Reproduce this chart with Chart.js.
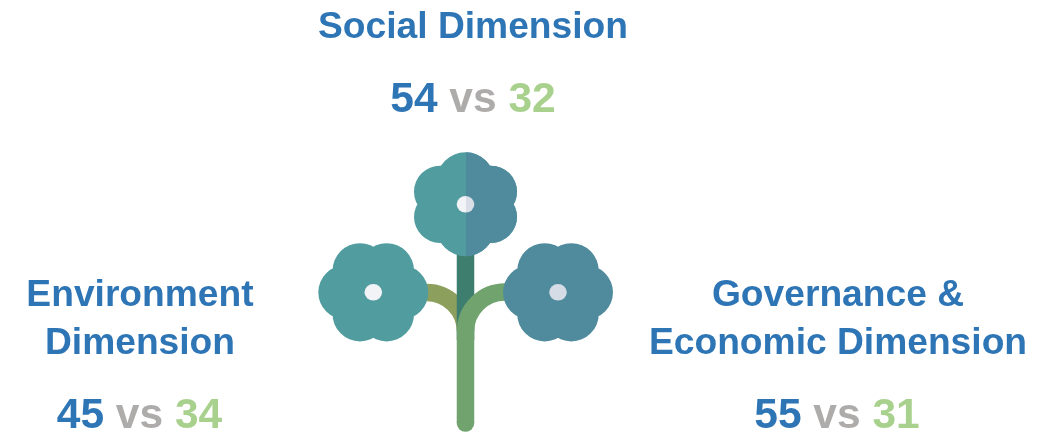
<!DOCTYPE html>
<html>
<head>
<meta charset="utf-8">
<title>Dimensions</title>
<script src="https://cdn.jsdelivr.net/npm/chart.js@4"></script>
<style>
  html, body { margin: 0; padding: 0; background: #ffffff; }
  canvas { display: block; }
</style>
</head>
<body>
<canvas id="myChart" width="1043" height="433"></canvas>
<script>
// Chart values
var categories = ["Environment Dimension", "Social Dimension", "Governance & Economic Dimension"];
var categoryLines = [["Environment", "Dimension"], ["Social Dimension"], ["Governance &", "Economic Dimension"]];
var blueValues = [45, 54, 55];
var greenValues = [34, 32, 31];
var separator = "vs";

// Colors
var BLUE = "#2e75b6";
var GREY = "#aeabab";
var GREEN = "#a9d18e";

// Where each group of text sits, in page pixels
var groupX = [139.5, 473, 837];
var titleX = [140, 473, 838];
var valueBaseline = [428, 112, 428];
var lineGap = 48;
var valueGap = 74;

// Draws the three text groups from the dataset values
var textPlugin = {
    id: "groupText",
    afterDatasetsDraw: function(chart) {
        var ctx = chart.ctx;
        var xScale = chart.scales.x;
        var yScale = chart.scales.y;
        var blue = chart.data.datasets[0].data;
        var green = chart.data.datasets[1].data;
        ctx.save();
        ctx.textBaseline = "alphabetic";
        categoryLines.forEach(function(lines, i) {
            var x = xScale.getPixelForValue(blue[i].x);
            var y = yScale.getPixelForValue(blue[i].y);

            // Title lines, stacked above the numbers
            ctx.font = "bold 37.2px 'Liberation Sans'";
            ctx.textAlign = "center";
            ctx.fillStyle = BLUE;
            lines.forEach(function(line, n) {
                var up = valueGap + lineGap * (lines.length - 1 - n);
                ctx.fillText(line, xScale.getPixelForValue(titleX[i]), y - up);
            });

            // "54 vs 32" in three colors
            ctx.font = "bold 42.5px 'Liberation Sans'";
            ctx.textAlign = "left";
            var parts = [
                { text: String(blue[i].value), color: BLUE },
                { text: separator, color: GREY },
                { text: String(green[i].value), color: GREEN }
            ];
            var space = ctx.measureText(" ").width;
            var total = space * 2;
            parts.forEach(function(p) { total += ctx.measureText(p.text).width; });
            var cursor = x - total / 2;
            parts.forEach(function(p) {
                ctx.fillStyle = p.color;
                ctx.fillText(p.text, cursor, y);
                cursor += ctx.measureText(p.text).width + space;
            });
        });
        ctx.restore();
    }
};

// Flower outline: six overlapping round petals around a filled middle
function flowerPath(ctx, cx, cy, upright) {
    var petals = upright
        ? [[0, -23, 29], [0, 23, 29], [-25.5, -12.6, 26], [25.5, -12.6, 26], [-25.5, 12.6, 26], [25.5, 12.6, 26]]
        : [[-28, 0, 27], [28, 0, 27], [-13.3, -21.6, 27.5], [13.3, -21.6, 27.5], [-13.3, 21.6, 27.5], [13.3, 21.6, 27.5]];
    ctx.beginPath();
    ctx.moveTo(cx + 30, cy);
    ctx.arc(cx, cy, 30, 0, Math.PI * 2);
    petals.forEach(function(p) {
        ctx.moveTo(cx + p[0] + p[2], cy + p[1]);
        ctx.arc(cx + p[0], cy + p[1], p[2], 0, Math.PI * 2);
    });
}

// Plant icon in the middle of the page
var plantPlugin = {
    id: "plant",
    beforeDatasetsDraw: function(chart) {
        var ctx = chart.ctx;
        var px = function(v) { return chart.scales.x.getPixelForValue(v); };
        var py = function(v) { return chart.scales.y.getPixelForValue(v); };
        var stemX = px(465.5);
        var splitX = Math.round(stemX);
        var stemWidth = 17.5;
        ctx.save();
        ctx.lineWidth = stemWidth;

        // olive left branch
        ctx.strokeStyle = "#8c9f5c";
        ctx.beginPath();
        ctx.arc(px(426.5), py(331.5), 39, -Math.PI / 2, 0);
        ctx.stroke();

        // dark upper stem
        ctx.strokeStyle = "#3e7e6f";
        ctx.beginPath();
        ctx.moveTo(stemX, py(240));
        ctx.lineTo(stemX, py(340));
        ctx.stroke();

        // green right branch and lower stem
        ctx.strokeStyle = "#70a36e";
        ctx.lineCap = "butt";
        ctx.beginPath();
        ctx.arc(px(505), py(331.5), 39.5, -Math.PI / 2, Math.PI, true);
        ctx.lineTo(stemX, py(423));
        ctx.stroke();
        ctx.fillStyle = "#70a36e";
        ctx.beginPath();
        ctx.arc(stemX, py(423), stemWidth / 2, 0, Math.PI * 2);
        ctx.fill();

        // side flowers
        flowerPath(ctx, px(373.3), py(292.3), false);
        ctx.fillStyle = "#519c9f";
        ctx.fill();
        flowerPath(ctx, px(558), py(292.3), false);
        ctx.fillStyle = "#4f8b9d";
        ctx.fill();

        // top flower, two tones split down the stem line
        flowerPath(ctx, stemX, py(204.3), true);
        ctx.fillStyle = "#519c9f";
        ctx.fill();
        ctx.beginPath();
        ctx.ellipse(stemX, py(204.3), 8.8, 8.3, 0, 0, Math.PI * 2);
        ctx.fillStyle = "#f1f3f6";
        ctx.fill();
        ctx.save();
        ctx.beginPath();
        ctx.rect(splitX, py(145), 60, 120);
        ctx.clip();
        flowerPath(ctx, stemX, py(204.3), true);
        ctx.fillStyle = "#4f8b9d";
        ctx.fill();
        ctx.beginPath();
        ctx.ellipse(stemX, py(204.3), 8.8, 8.3, 0, 0, Math.PI * 2);
        ctx.fillStyle = "#d9dee7";
        ctx.fill();
        ctx.restore();

        // side flower centres
        ctx.fillStyle = "#f1f3f6";
        ctx.beginPath();
        ctx.ellipse(px(373.3), py(292.3), 8.8, 8.3, 0, 0, Math.PI * 2);
        ctx.fill();
        ctx.fillStyle = "#d6dce6";
        ctx.beginPath();
        ctx.ellipse(px(558), py(292.3), 8.8, 8.3, 0, 0, Math.PI * 2);
        ctx.fill();
        ctx.restore();
    }
};

// One invisible point per group, so the text hangs off the chart scales
function groupPoints(values) {
    return values.map(function(v, i) {
        return { x: groupX[i], y: valueBaseline[i], value: v };
    });
}

var ctx = document.getElementById("myChart").getContext("2d");
var myChart = new Chart(ctx, {
    type: "scatter",
    data: {
        labels: categories,
        datasets: [
            { label: "Blue", data: groupPoints(blueValues), pointRadius: 0, backgroundColor: BLUE },
            { label: "Green", data: groupPoints(greenValues), pointRadius: 0, backgroundColor: GREEN }
        ]
    },
    options: {
        responsive: false,
        animation: false,
        layout: { padding: 0 },
        plugins: { legend: { display: false }, tooltip: { enabled: false } },
        scales: {
            x: { type: "linear", min: 0, max: 1043, display: false },
            y: { type: "linear", min: 0, max: 433, reverse: true, display: false }
        }
    },
    plugins: [plantPlugin, textPlugin]
});
</script>
</body>
</html>
